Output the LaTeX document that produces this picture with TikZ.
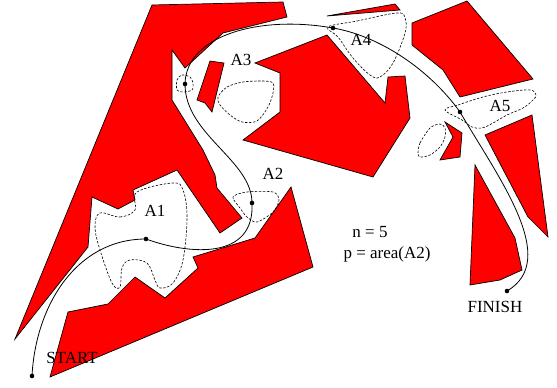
\documentclass[tikz,border=0pt]{standalone}
\usepackage{fontspec}
\setmainfont{Liberation Serif}
\usepackage{tikz}
\usetikzlibrary{positioning,calc}
\definecolor{obstaculo}{HTML}{FF0000}

\begin{document}
\begin{tikzpicture}[x=1pt,y=-1pt,
      obst/.style={fill=obstaculo,draw=black,line width=0.7pt,line join=miter},
      zona/.style={draw=black,line width=0.6pt,dash pattern=on 2.4pt off 1.6pt},
      ruta/.style={draw=black,line width=0.8pt},
      punto/.style={circle,fill=black,inner sep=0pt,minimum size=4.6pt},
      etiq/.style={font=\fontsize{17}{19}\selectfont,inner sep=0pt}]
    \useasboundingbox (0,0) rectangle (557,388);
    \path[obst] (15,339) -- (152,5) -- (283,2) -- (287,17) -- (223,33) -- (185,68) -- (172,50)
       -- (172,100) -- (203,150) -- (215,175) -- (217,188) -- (242,218) -- (220,233) -- (177,170)
       -- (133,190) -- (135,200) -- (118,209) -- (92,197) -- (88,247) -- cycle;
    \path[obst] (50,377) -- (68,312) -- (108,304) -- (135,277) -- (165,298) -- (198,268)
       -- (193,257) -- (255,238) -- (291,187) -- (313,267) -- cycle;
    \path[obst] (210,61) -- (224,63) -- (212,112) -- (205,103) -- (197,100) -- cycle;
    \path[obst] (255,63) -- (327,35) -- (385,103) -- (388,77) -- (405,76) -- (410,118)
       -- (373,177) -- (243,140) -- (280,112) -- (280,73) -- cycle;
    \path[obst] (327,16) -- (395,4) -- (400,10) -- cycle;
    \path[obst] (412,23) -- (467,1) -- (533,79) -- (460,97) -- (443,70) -- (412,45) -- cycle;
    \path[obst] (445,122) -- (462,133) -- (460,157) -- (440,160) -- (453,137) -- cycle;
    \path[obst] (485,135) -- (532,115) -- (548,237) -- (528,217) -- cycle;
    \path[obst] (475,165) -- (515,238) -- (522,270) -- (500,280) -- (470,285) -- cycle;

    \draw[zona] plot[smooth cycle,tension=0.6] coordinates {(100,213) (120,217) (135,210) (137,192)
       (173,183) (183,190) (187,217) (183,260) (173,283) (160,288) (155,280) (147,263) (130,260)
       (122,268) (120,287) (112,283) (100,250) (95,227)};
    \draw[zona] plot[smooth cycle] coordinates {(233,197) (247,192) (273,192) (279,200) (273,212)
       (257,222) (247,217) (240,208)};
    \draw[zona] plot[smooth cycle] coordinates {(177,80) (182,75) (190,77) (193,83) (192,90)
       (183,92) (177,90)};
    \draw[zona] plot[smooth cycle] coordinates {(218,97) (227,87) (243,82) (263,81) (273,83)
       (273,93) (268,107) (257,121) (242,122) (230,115) (220,105)};
    \draw[zona] plot[smooth cycle,tension=0.6] coordinates {(328,27) (357,21) (397,13) (405,18)
       (405,33) (393,63) (380,77) (370,75) (353,58) (338,37)};
    \draw[zona] plot[smooth cycle,tension=0.6] coordinates {(445,110) (458,105) (483,97) (507,92)
       (530,90) (536,95) (533,100) (523,108) (507,115) (493,123) (482,128) (472,127) (462,120)};
    \draw[zona] plot[smooth cycle] coordinates {(418,153) (420,143) (430,128) (440,124) (445,128)
       (445,137) (440,147) (430,155) (420,157)};

    \node[punto] (s) at (32,376) {};
    \node[punto] (p1) at (146,239) {};
    \node[punto] (p2) at (252,203) {};
    \node[punto] (p3) at (185,84) {};
    \node[punto] (p4) at (333,28) {};
    \node[punto] (p5) at (460,112) {};
    \node[punto] (f) at (507,291) {};
    \draw[ruta] (s.center) .. controls (35.6,306) and (76,239) .. (p1.center)
       .. controls (190,255) and (255,260) .. (p2.center)
       .. controls (252,160) and (185,135) .. (p3.center)
       .. controls (186,35) and (260,15) .. (p4.center)
       .. controls (380,36) and (430,70) .. (p5.center)
       .. controls (500,180) and (560,260) .. (f.center);

    \node[etiq] (a1) at (155,211) {A1};
    \node[etiq] (a2) at (273,174) {A2};
    \node[etiq] (a3) at (241,60) {A3};
    \node[etiq] (a4) at (361,40) {A4};
    \node[etiq] (a5) at (500,106) {A5};
    \node[etiq] (inicio) at (72,358) {START};
    \node[etiq] (fin) at (495,307) {FINISH};
    \node[etiq] (n) at (370,232) {n = 5};
    \node[etiq] (p) at (387,254) {p = area(A2)};
  \end{tikzpicture}
\end{document}
